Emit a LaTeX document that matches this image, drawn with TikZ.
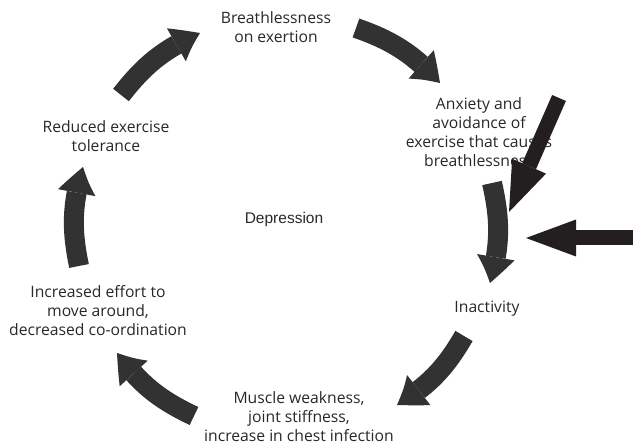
\documentclass[tikz,border=0pt]{standalone}
\usepackage{fontspec}
\setmainfont{Open Sans}
\newfontfamily\depfont{Liberation Sans}
\usetikzlibrary{arrows.meta,bending}

\definecolor{txtgray}{RGB}{40,40,40}
\definecolor{roundgray}{RGB}{50,50,50}
\definecolor{pushblack}{RGB}{35,31,32}

\tikzset{
  stage/.style={align=center, text=txtgray, inner sep=0pt,
    font=\fontsize{15.7}{19}\selectfont},
  roundarrow/.style={roundgray, line width=20pt,
    -{Triangle[width=38pt, length=28pt, line width=0pt, bend]}},
  pusharrow/.style={pushblack, line width=15pt,
    -{Triangle[width=37pt, length=50pt, line width=0pt]}}
}

\begin{document}
\begin{tikzpicture}[x=1pt, y=1pt]

\useasboundingbox (0,0) rectangle (633,-446);

% Stages of the cycle
\node[stage] (breath) at (276,-27) {Breathlessness\\on exertion};
\node[stage] (anxiety) at (479,-132.5) {Anxiety and\\avoidance of\\exercise that causes\\breathlessness};
\node[stage] (inactive) at (487,-309) {Inactivity};
\node[stage] (muscle) at (299,-416.5) {Muscle weakness,\\joint stiffness,\\increase in chest infection};
\node[stage] (effort) at (98,-311) {Increased effort to\\move around,\\decreased co-ordination};
\node[stage] (reduced) at (106,-136) {Reduced exercise\\tolerance};

% Centre
\node[text=txtgray, inner sep=0pt, font=\depfont\fontsize{15.5}{17}\selectfont] (depress) at (284,-219) {Depression};

% Ends of the round arrows
\coordinate (t1) at (121,-95);  \coordinate (h1) at (200,-33);
\coordinate (t2) at (356,-28);  \coordinate (h2) at (440,-83);
\coordinate (t3) at (492,-183); \coordinate (h3) at (490,-283);
\coordinate (t4) at (464,-336); \coordinate (h4) at (397,-405);
\coordinate (t5) at (194,-416); \coordinate (h5) at (117,-353);
\coordinate (t6) at (79,-266);  \coordinate (h6) at (83,-167);

\foreach \i/\j in {t1/h1, t2/h2, t3/h3, t4/h4, t5/h5, t6/h6} {
  \draw[roundarrow] (\i) to[bend left=14] (\j);
}

% Arrows pushing in from outside
\coordinate (p1) at (559,-98);  \coordinate (q1) at (509,-212);
\coordinate (p2) at (633,-238); \coordinate (q2) at (526,-238);

\draw[pusharrow] (p1) -- (q1);
\draw[pusharrow] (p2) -- (q2);

\end{tikzpicture}
\end{document}
